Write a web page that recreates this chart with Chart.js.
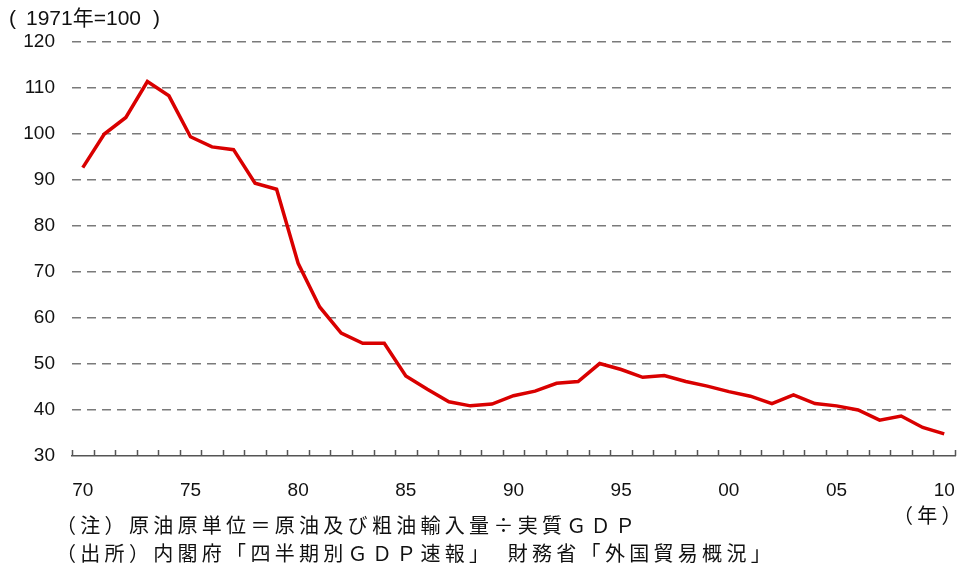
<html>
<head>
<meta charset="utf-8">
<style>
  body { margin: 0; background: #fff; }
  #wrap { position: relative; width: 959px; height: 569px; }
  .txt { position: absolute; font-family: "Liberation Sans", "Noto Sans CJK JP", sans-serif; font-size: 21px; line-height: 24px; color: #111; white-space: nowrap; }
  .note { font-family: "Noto Sans CJK JP", sans-serif; font-size: 20px; line-height: 28px; letter-spacing: 4.3px; }
</style>
</head>
<body>
<div id="wrap">
  <canvas id="myChart" width="959" height="569"></canvas>
  <div class="txt" style="left:9px;top:6px;">(</div>
  <div class="txt" style="left:26px;top:6px;">1971年=100</div>
  <div class="txt" style="left:153px;top:6px;">)</div>
  <div class="txt note" style="left:893px;top:501px;">（年）</div>
  <div class="txt note" style="left:56px;top:511px;">（注）原油原単位＝原油及び粗油輸入量÷実質ＧＤＰ</div>
  <div class="txt note" style="left:56px;top:539px;">（出所）内閣府「四半期別ＧＤＰ速報」　財務省「外国貿易概況」</div>
</div>
<script src="https://cdn.jsdelivr.net/npm/chart.js@4/dist/chart.umd.min.js"></script>
<script>
    const years = [
        1970, 1971, 1972, 1973, 1974, 1975, 1976, 1977, 1978, 1979,
        1980, 1981, 1982, 1983, 1984, 1985, 1986, 1987, 1988, 1989,
        1990, 1991, 1992, 1993, 1994, 1995, 1996, 1997, 1998, 1999,
        2000, 2001, 2002, 2003, 2004, 2005, 2006, 2007, 2008, 2009, 2010
    ];
    const crudeOilIntensity = [
        92.7, 100.0, 103.6, 111.4, 108.3, 99.4, 97.2, 96.6, 89.3, 88.0,
        71.9, 62.4, 56.7, 54.5, 54.5, 47.4, 44.5, 41.8, 40.9, 41.3,
        43.1, 44.1, 45.8, 46.2, 50.1, 48.8, 47.1, 47.5, 46.2, 45.2,
        44.0, 43.0, 41.4, 43.3, 41.4, 40.9, 40.0, 37.8, 38.7, 36.2, 34.8
    ];
    const yTicks = [30, 40, 50, 60, 70, 80, 90, 100, 110, 120];

    const font = { family: "'Liberation Sans', Arial, sans-serif", size: 19 };

    // small tick marks pointing up from the x axis, at the category borders
    const upTicks = {
        id: "upTicks",
        afterDatasetsDraw(chart) {
            const xs = chart.scales.x;
            const ctx = chart.ctx;
            const n = years.length;
            ctx.save();
            ctx.strokeStyle = "#555";
            ctx.lineWidth = 1.5;
            ctx.beginPath();
            for (let i = 0; i <= n; i++) {
                const x = Math.round(xs.left + i * xs.width / n) + 0.5;
                ctx.moveTo(x, xs.top);
                ctx.lineTo(x, xs.top - 6);
            }
            ctx.stroke();
            ctx.restore();
        }
    };

    new Chart("myChart", {
        type: "line",
        data: {
            labels: years,
            datasets: [{
                data: crudeOilIntensity,
                borderColor: "#d90000",
                borderWidth: 3.5,
                pointRadius: 0,
                tension: 0,
                fill: false
            }]
        },
        options: {
            responsive: false,
            animation: false,
            layout: { padding: { top: 42, right: 4, left: 0, bottom: 0 } },
            plugins: { legend: { display: false }, tooltip: { enabled: false } },
            scales: {
                x: {
                    type: "category",
                    offset: true,
                    afterFit: (s) => { s.height = 113; s.paddingLeft = 0; s.paddingRight = 0; },
                    grid: { display: false, drawTicks: false },
                    border: { display: true, color: "#555", width: 1.5 },
                    ticks: {
                        autoSkip: false,
                        maxRotation: 0,
                        padding: 23,
                        color: "#111",
                        font: font,
                        callback: function (v, i) {
                            const y = years[i];
                            return y % 5 === 0 ? String(y % 100).padStart(2, "0") : "";
                        }
                    }
                },
                y: {
                    min: 30,
                    max: 120,
                    afterFit: (s) => { s.width = 72; s.paddingTop = 0; s.paddingBottom = 0; },
                    afterBuildTicks: (s) => { s.ticks = yTicks.map(v => ({ value: v })); },
                    border: { display: false, dash: [9, 6] },
                    grid: {
                        drawTicks: false,
                        lineWidth: 1.5,
                        color: (c) => c.tick && c.tick.value === 30 ? "rgba(0,0,0,0)" : "#7a7a7a"
                    },
                    ticks: { padding: 17, color: "#111", font: font }
                }
            }
        },
        plugins: [upTicks]
    });
</script>
</body>
</html>
